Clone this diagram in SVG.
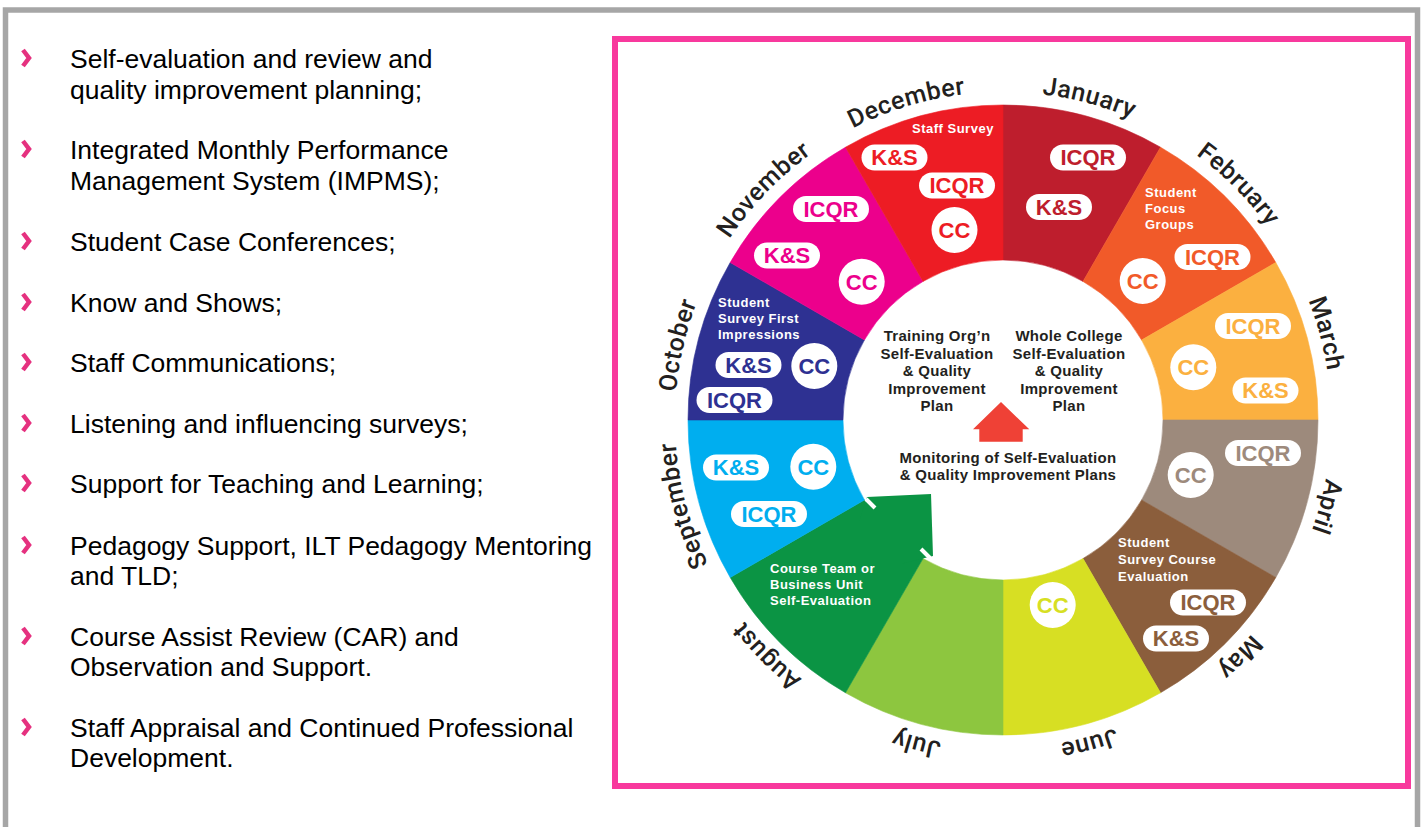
<svg xmlns="http://www.w3.org/2000/svg" xmlns:xlink="http://www.w3.org/1999/xlink" width="1423" height="827" viewBox="0 0 1423 827">
<style>
.list{font-family:"Liberation Sans",Arial,sans-serif;font-size:26.5px;fill:#000}
.bullet{fill:none;stroke:#e5317f;stroke-width:4.5;stroke-linejoin:miter}
.month{font-family:Roboto,"Liberation Sans",sans-serif;font-weight:500;font-size:25px;fill:#231f20;letter-spacing:0.5px}
.lab{font-family:"Liberation Sans",Arial,sans-serif;font-weight:700;font-size:13px;fill:#fff;letter-spacing:0.5px}
.pill{fill:#fff}
.pt{font-family:"Liberation Sans",Arial,sans-serif;font-weight:700;font-size:22px;text-anchor:middle}
.ctr{font-family:"Liberation Sans",Arial,sans-serif;font-weight:700;font-size:15px;fill:#231f20;text-anchor:middle;letter-spacing:0.3px}
</style>
<defs>
<path id="ring" d="M1003,92 A328,328 0 1 1 1003,748 A328,328 0 1 1 1003,92"/>
</defs>
<rect x="0" y="0" width="1423" height="827" fill="#fff"/>
<rect x="5.5" y="10" width="1412" height="840" fill="none" stroke="#a6a6a6" stroke-width="5.5"/>
<rect x="615" y="39" width="793" height="747" fill="none" stroke="#f8399d" stroke-width="6"/>

<g id="list">
<polyline class="bullet" points="23,50 29,58 23,66"/>
<text class="list" x="70" y="68">Self-evaluation and review and</text>
<text class="list" x="70" y="99">quality improvement planning;</text>
<polyline class="bullet" points="23,141 29,149 23,157"/>
<text class="list" x="70" y="159">Integrated Monthly Performance</text>
<text class="list" x="70" y="190">Management System (IMPMS);</text>
<polyline class="bullet" points="23,233 29,241 23,249"/>
<text class="list" x="70" y="251">Student Case Conferences;</text>
<polyline class="bullet" points="23,294 29,302 23,310"/>
<text class="list" x="70" y="312">Know and Shows;</text>
<polyline class="bullet" points="23,354 29,362 23,370"/>
<text class="list" x="70" y="372">Staff Communications;</text>
<polyline class="bullet" points="23,415 29,423 23,431"/>
<text class="list" x="70" y="433">Listening and influencing surveys;</text>
<polyline class="bullet" points="23,475 29,483 23,491"/>
<text class="list" x="70" y="493">Support for Teaching and Learning;</text>
<polyline class="bullet" points="23,537 29,545 23,553"/>
<text class="list" x="70" y="555">Pedagogy Support, ILT Pedagogy Mentoring</text>
<text class="list" x="70" y="585">and TLD;</text>
<polyline class="bullet" points="23,628 29,636 23,644"/>
<text class="list" x="70" y="646">Course Assist Review (CAR) and</text>
<text class="list" x="70" y="676">Observation and Support.</text>
<polyline class="bullet" points="23,719 29,727 23,735"/>
<text class="list" x="70" y="737">Staff Appraisal and Continued Professional</text>
<text class="list" x="70" y="767">Development.</text>
</g>

<g id="jan">
<path d="M1003,105 A315,315 0 0 1 1160.5,147.2 L1083,281.4 A160,160 0 0 0 1003,260 Z" fill="#be1e2d" stroke="#be1e2d" stroke-width="0.6"/>
<text class="month" text-anchor="middle"><textPath href="#ring" xlink:href="#ring" startOffset="4.1667%">January</textPath></text>
<rect class="pill" x="1050" y="144.5" width="76" height="26" rx="13"/><text class="pt" x="1088" y="165.3" fill="#be1e2d">ICQR</text>
<rect class="pill" x="1026" y="194" width="66" height="26" rx="13"/><text class="pt" x="1059" y="214.8" fill="#be1e2d">K&amp;S</text>
</g>

<g id="feb">
<path d="M1160.5,147.2 A315,315 0 0 1 1275.8,262.5 L1141.6,340 A160,160 0 0 0 1083,281.4 Z" fill="#f15a29" stroke="#f15a29" stroke-width="0.6"/>
<text class="month" text-anchor="middle"><textPath href="#ring" xlink:href="#ring" startOffset="12.5%">February</textPath></text>
<text class="lab" x="1145" y="196.5">Student</text>
<text class="lab" x="1145" y="213">Focus</text>
<text class="lab" x="1145" y="229">Groups</text>
<rect class="pill" x="1174.5" y="244" width="76" height="26" rx="13"/><text class="pt" x="1212.5" y="264.8" fill="#f15a29">ICQR</text>
<circle class="pill" cx="1142.7" cy="281" r="23"/><text class="pt" x="1142.7" y="288.8" fill="#f15a29">CC</text>
</g>

<g id="mar">
<path d="M1275.8,262.5 A315,315 0 0 1 1318,420 L1163,420 A160,160 0 0 0 1141.6,340 Z" fill="#fbb040" stroke="#fbb040" stroke-width="0.6"/>
<text class="month" text-anchor="middle"><textPath href="#ring" xlink:href="#ring" startOffset="20.8333%">March</textPath></text>
<rect class="pill" x="1215" y="313" width="76" height="26" rx="13"/><text class="pt" x="1253" y="333.8" fill="#fbb040">ICQR</text>
<circle class="pill" cx="1193.3" cy="367.3" r="23"/><text class="pt" x="1193.3" y="375.1" fill="#fbb040">CC</text>
<rect class="pill" x="1232.5" y="377.5" width="66" height="26" rx="13"/><text class="pt" x="1265.5" y="398.3" fill="#fbb040">K&amp;S</text>
</g>

<g id="apr">
<path d="M1318,420 A315,315 0 0 1 1275.8,577.5 L1141.6,500 A160,160 0 0 0 1163,420 Z" fill="#9d8a7c" stroke="#9d8a7c" stroke-width="0.6"/>
<text class="month" text-anchor="middle"><textPath href="#ring" xlink:href="#ring" startOffset="29.1667%">April</textPath></text>
<rect class="pill" x="1225" y="440" width="76" height="26" rx="13"/><text class="pt" x="1263" y="460.8" fill="#9d8a7c">ICQR</text>
<circle class="pill" cx="1190.7" cy="475" r="23"/><text class="pt" x="1190.7" y="482.8" fill="#9d8a7c">CC</text>
</g>

<g id="may">
<path d="M1275.8,577.5 A315,315 0 0 1 1160.5,692.8 L1083,558.6 A160,160 0 0 0 1141.6,500 Z" fill="#8b5e3c" stroke="#8b5e3c" stroke-width="0.6"/>
<text class="month" text-anchor="middle"><textPath href="#ring" xlink:href="#ring" startOffset="37.5%">May</textPath></text>
<text class="lab" x="1118" y="547">Student</text>
<text class="lab" x="1118" y="564">Survey Course</text>
<text class="lab" x="1118" y="581">Evaluation</text>
<rect class="pill" x="1170" y="589.5" width="76" height="26" rx="13"/><text class="pt" x="1208" y="610.3" fill="#8b5e3c">ICQR</text>
<rect class="pill" x="1143" y="625.5" width="66" height="26" rx="13"/><text class="pt" x="1176" y="646.3" fill="#8b5e3c">K&amp;S</text>
</g>

<g id="jun">
<path d="M1160.5,692.8 A315,315 0 0 1 1003,735 L1003,580 A160,160 0 0 0 1083,558.6 Z" fill="#d7df23" stroke="#d7df23" stroke-width="0.6"/>
<text class="month" text-anchor="middle"><textPath href="#ring" xlink:href="#ring" startOffset="45.8333%">June</textPath></text>
<circle class="pill" cx="1052.7" cy="605" r="23"/><text class="pt" x="1052.7" y="612.8" fill="#d7df23">CC</text>
</g>

<g id="jul">
<path d="M1003,735 A315,315 0 0 1 845.5,692.8 L923,558.6 A160,160 0 0 0 1003,580 Z" fill="#8dc63f" stroke="#8dc63f" stroke-width="0.6"/>
<text class="month" text-anchor="middle"><textPath href="#ring" xlink:href="#ring" startOffset="54.1667%">July</textPath></text>
</g>

<g id="aug">
<path d="M845.5,692.8 A315,315 0 0 1 730.2,577.5 L864.4,500 A160,160 0 0 0 923,558.6 Z" fill="#0b9444" stroke="#0b9444" stroke-width="0.6"/>
<polygon points="867,497 931,494 933,556 902.6,563.4 859.6,520.4" fill="#0b9444"/>
<line x1="866" y1="499" x2="875" y2="508" stroke="#fff" stroke-width="4"/>
<line x1="921" y1="549" x2="930" y2="558" stroke="#fff" stroke-width="4"/>
<text class="month" text-anchor="middle"><textPath href="#ring" xlink:href="#ring" startOffset="62.5%">August</textPath></text>
<text class="lab" x="770" y="573">Course Team or</text>
<text class="lab" x="770" y="589">Business Unit</text>
<text class="lab" x="770" y="605">Self-Evaluation</text>
</g>

<g id="sep">
<path d="M730.2,577.5 A315,315 0 0 1 688,420 L843,420 A160,160 0 0 0 864.4,500 Z" fill="#00aeef" stroke="#00aeef" stroke-width="0.6"/>
<text class="month" text-anchor="middle"><textPath href="#ring" xlink:href="#ring" startOffset="70.8333%">September</textPath></text>
<rect class="pill" x="703" y="454.5" width="66" height="26" rx="13"/><text class="pt" x="736" y="475.3" fill="#00aeef">K&amp;S</text>
<circle class="pill" cx="813.3" cy="466.7" r="23"/><text class="pt" x="813.3" y="474.5" fill="#00aeef">CC</text>
<rect class="pill" x="731" y="501" width="76" height="26" rx="13"/><text class="pt" x="769" y="521.8" fill="#00aeef">ICQR</text>
</g>

<g id="oct">
<path d="M688,420 A315,315 0 0 1 730.2,262.5 L864.4,340 A160,160 0 0 0 843,420 Z" fill="#2e3192" stroke="#2e3192" stroke-width="0.6"/>
<text class="month" text-anchor="middle"><textPath href="#ring" xlink:href="#ring" startOffset="78.6%">October</textPath></text>
<text class="lab" x="718" y="307">Student</text>
<text class="lab" x="718" y="323">Survey First</text>
<text class="lab" x="718" y="339">Impressions</text>
<rect class="pill" x="715.5" y="352" width="66" height="26" rx="13"/><text class="pt" x="748.5" y="372.8" fill="#2e3192">K&amp;S</text>
<circle class="pill" cx="814.3" cy="366" r="23"/><text class="pt" x="814.3" y="373.8" fill="#2e3192">CC</text>
<rect class="pill" x="696.5" y="387" width="76" height="26" rx="13"/><text class="pt" x="734.5" y="407.8" fill="#2e3192">ICQR</text>
</g>

<g id="nov">
<path d="M730.2,262.5 A315,315 0 0 1 845.5,147.2 L923,281.4 A160,160 0 0 0 864.4,340 Z" fill="#ec008c" stroke="#ec008c" stroke-width="0.6"/>
<text class="month" text-anchor="middle"><textPath href="#ring" xlink:href="#ring" startOffset="87.2%">November</textPath></text>
<rect class="pill" x="793" y="196" width="76" height="26" rx="13"/><text class="pt" x="831" y="216.8" fill="#ec008c">ICQR</text>
<rect class="pill" x="754" y="242.5" width="66" height="26" rx="13"/><text class="pt" x="787" y="263.3" fill="#ec008c">K&amp;S</text>
<circle class="pill" cx="861.7" cy="281.7" r="23"/><text class="pt" x="861.7" y="289.5" fill="#ec008c">CC</text>
</g>

<g id="dec">
<path d="M845.5,147.2 A315,315 0 0 1 1003,105 L1003,260 A160,160 0 0 0 923,281.4 Z" fill="#ed1c24" stroke="#ed1c24" stroke-width="0.6"/>
<text class="month" text-anchor="middle"><textPath href="#ring" xlink:href="#ring" startOffset="95.3%">December</textPath></text>
<text class="lab" x="912" y="133">Staff Survey</text>
<rect class="pill" x="861.5" y="144.5" width="66" height="26" rx="13"/><text class="pt" x="894.5" y="165.3" fill="#ed1c24">K&amp;S</text>
<rect class="pill" x="919" y="172.5" width="76" height="26" rx="13"/><text class="pt" x="957" y="193.3" fill="#ed1c24">ICQR</text>
<circle class="pill" cx="954.5" cy="230" r="23"/><text class="pt" x="954.5" y="237.8" fill="#ed1c24">CC</text>
</g>

<g id="training-plan">
<text class="ctr" x="937" y="341">Training Org’n</text>
<text class="ctr" x="937" y="358.5">Self-Evaluation</text>
<text class="ctr" x="937" y="376">&amp; Quality</text>
<text class="ctr" x="937" y="393.5">Improvement</text>
<text class="ctr" x="937" y="411">Plan</text>
</g>
<g id="college-plan">
<text class="ctr" x="1069" y="341">Whole College</text>
<text class="ctr" x="1069" y="358.5">Self-Evaluation</text>
<text class="ctr" x="1069" y="376">&amp; Quality</text>
<text class="ctr" x="1069" y="393.5">Improvement</text>
<text class="ctr" x="1069" y="411">Plan</text>
</g>
<g id="monitoring">
<text class="ctr" x="1008" y="463">Monitoring of Self-Evaluation</text>
<text class="ctr" x="1008" y="480">&amp; Quality Improvement Plans</text>
</g>

<g id="connectors">
<polygon points="1001,402 1029.3,429.3 1022.7,429.3 1022.7,441.7 979.3,441.7 979.3,429.3 973,429.3" fill="#ef4136"/>
</g>
</svg>
